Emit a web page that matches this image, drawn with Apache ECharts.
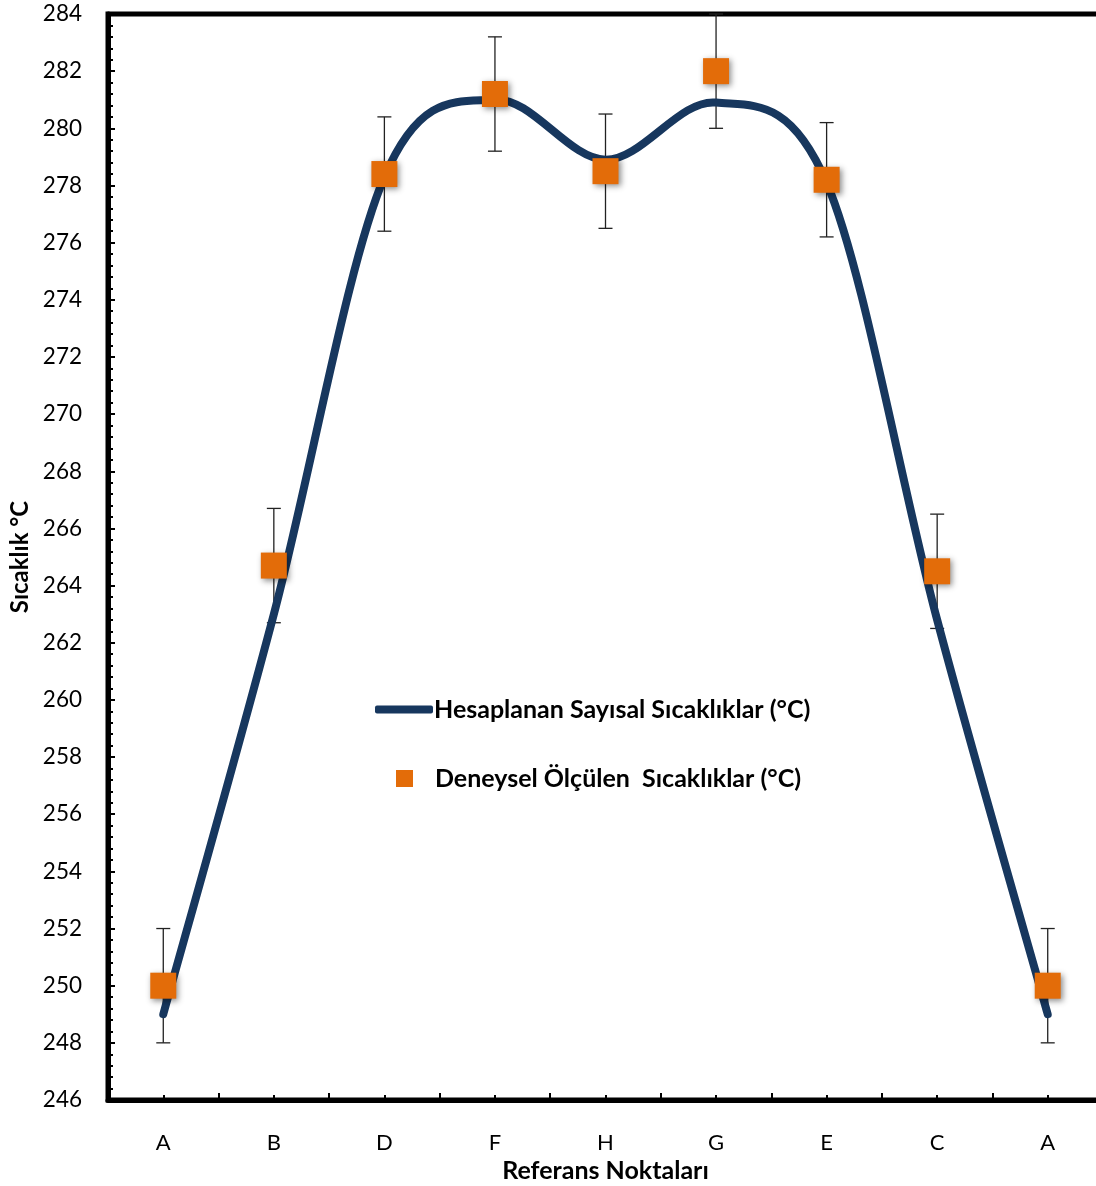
<!DOCTYPE html>
<html><head><meta charset="utf-8">
<script src="https://cdn.jsdelivr.net/npm/echarts@6/dist/echarts.min.js"></script>
<style>html,body{margin:0;padding:0;background:#fff}#c{width:1096px;height:1186px}</style>
</head><body><div id="c"></div>
<script>
const categories = ['A','B','D','F','H','G','E','C','A'];
const calculated = [249, 263, 278.3, 281.0, 278.9, 280.9, 278.1, 262.8, 249];
const measured = [250, 264.7, 278.4, 281.2, 278.5, 282.0, 278.2, 264.5, 250];
const errLow = [2, 2, 2, 2, 2, 2, 2, 2, 2];
const errHigh = [2, 2, 2, 2, 2, 2, 2, 2, 2];
const calcName = 'Hesaplanan Sayısal Sıcaklıklar (°C)';
const measName = 'Deneysel Ölçülen  Sıcaklıklar (°C)';
const FONT = 'Lato, "Liberation Sans", sans-serif';

const errData = measured.map((v, i) => [i, v - errLow[i], v + errHigh[i]]);
const calcData = calculated.map((v, i) => [i, v]);

const chart = echarts.init(document.getElementById('c'), null, {renderer: 'canvas'});
chart.setOption({
  animation: false,
  grid: {left: 108, top: 14, width: 995, height: 1086, show: true, borderColor: '#000', borderWidth: 5,
         containLabel: false, outerBoundsMode: 'none'},
  legend: [
    {left: 375, top: 697, padding: 0, orient: 'vertical', itemWidth: 58, itemHeight: 8, icon: 'roundRect',
     data: [{name: calcName, itemStyle: {color: '#17375e'}}],
     textStyle: {fontFamily: FONT, fontWeight: 'bold', fontSize: 25, color: '#000', padding: [0,0,0,-4]}},
    {left: 396, top: 766, padding: 0, orient: 'vertical', itemWidth: 17, itemHeight: 17, icon: 'rect',
     data: [{name: measName, itemStyle: {color: '#e36c09'}}],
     textStyle: {fontFamily: FONT, fontWeight: 'bold', fontSize: 25, color: '#000', padding: [0,0,0,17]}}
  ],
  xAxis: [
    {type: 'category', data: categories, boundaryGap: true, position: 'bottom',
     axisLine: {show: true, lineStyle: {color: '#000', width: 5}},
     axisTick: {show: true, inside: true, length: 7, alignWithLabel: false, lineStyle: {color: '#000', width: 2}},
     axisLabel: {show: true, margin: 32, fontFamily: FONT, fontSize: 22, color: '#000'},
     name: 'Referans Noktaları', nameLocation: 'middle', nameGap: 57,
     nameTextStyle: {fontFamily: FONT, fontWeight: 'bold', fontSize: 25, color: '#000'},
     splitLine: {show: false}},
    {type: 'category', data: categories, boundaryGap: true, position: 'bottom',
     axisLine: {show: false},
     axisTick: {show: true, inside: true, length: 5, alignWithLabel: true, lineStyle: {color: '#000', width: 2}},
     axisLabel: {show: false}, splitLine: {show: false}}
  ],
  yAxis: {type: 'value', min: 246, max: 284, interval: 2,
    axisLine: {show: true, lineStyle: {color: '#000', width: 5}},
    axisTick: {show: true, inside: true, length: 7, lineStyle: {color: '#000', width: 2}},
    minorTick: {show: true, splitNumber: 5, length: 5, lineStyle: {color: '#000', width: 2}},
    axisLabel: {margin: 26, fontFamily: FONT, fontSize: 22.5, color: '#000'},
    splitLine: {show: false},
    name: 'Sıcaklık °C', nameLocation: 'middle', nameGap: 76,
    nameTextStyle: {fontFamily: FONT, fontWeight: 'bold', fontSize: 24, color: '#000'}
  },
  series: [
    {name: 'err', type: 'custom', xAxisIndex: 0, data: errData, z: 2, silent: true,
     renderItem: function (params, api) {
       const x = api.value(0);
       const lo = api.coord([x, api.value(1)]);
       const hi = api.coord([x, api.value(2)]);
       const hw = 7;
       const st = {stroke: '#222', lineWidth: 1.3};
       return {type: 'group', children: [
         {type: 'line', shape: {x1: lo[0], y1: lo[1], x2: hi[0], y2: hi[1]}, style: st},
         {type: 'line', shape: {x1: lo[0]-hw, y1: lo[1], x2: lo[0]+hw, y2: lo[1]}, style: st},
         {type: 'line', shape: {x1: hi[0]-hw, y1: hi[1], x2: hi[0]+hw, y2: hi[1]}, style: st}
       ]};
     }},
    {name: calcName, type: 'custom', xAxisIndex: 0, data: calcData, z: 3, silent: true, clip: false,
     renderItem: function (params, api) {
       if (params.dataIndex !== 0) return null;
       const n = calculated.length;
       const P = calculated.map((v, k) => api.coord([k, v]));
       const t = 1 / 6;
       let d = 'M' + P[0][0] + ' ' + P[0][1];
       for (let k = 0; k < n - 1; k++) {
         const p0 = P[Math.max(k - 1, 0)], p1 = P[k], p2 = P[k + 1], p3 = P[Math.min(k + 2, n - 1)];
         const c1x = p1[0] + (p2[0] - p0[0]) * t, c1y = p1[1] + (p2[1] - p0[1]) * t;
         const c2x = p2[0] - (p3[0] - p1[0]) * t, c2y = p2[1] - (p3[1] - p1[1]) * t;
         d += ' C' + c1x + ' ' + c1y + ' ' + c2x + ' ' + c2y + ' ' + p2[0] + ' ' + p2[1];
       }
       return {type: 'path', shape: {pathData: d},
               style: {fill: null, stroke: '#17375e', lineWidth: 8, lineCap: 'round', lineJoin: 'round'}};
     }},
    {name: measName, type: 'scatter', data: measured, symbol: 'rect', symbolSize: 26, z: 4,
     itemStyle: {color: '#e36c09', opacity: 1, shadowBlur: 6, shadowOffsetX: 2, shadowOffsetY: 2, shadowColor: 'rgba(0,0,0,0.45)'}}
  ]
});
</script></body></html>
